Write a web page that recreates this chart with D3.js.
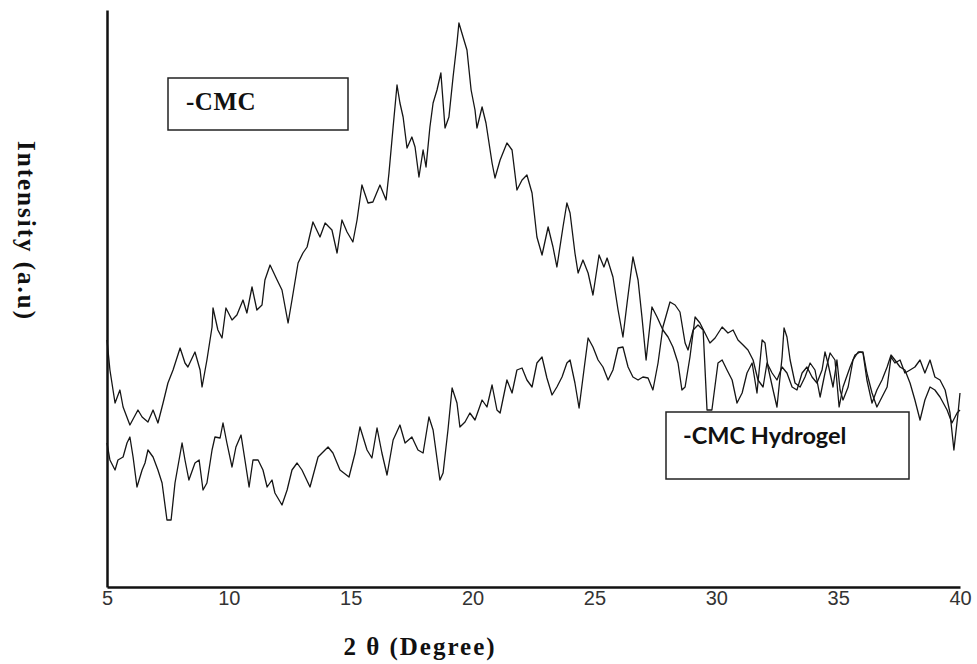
<!DOCTYPE html>
<html>
<head>
<meta charset="utf-8">
<script src="https://cdn.jsdelivr.net/npm/d3@7"></script>
<style>
  body { margin: 0; background: #fff; }
  svg { display: block; }
</style>
</head>
<body>
<div id="root"></div>
<script>
// CMC: 2θ (degree) and intensity (a.u.)
const cmcTheta = [5.00,5.12,5.33,5.53,5.66,5.94,6.27,6.44,6.68,6.89,7.09,7.30,7.50,7.71,8.00,8.20,8.32,8.61,8.82,8.90,
  9.10,9.31,9.35,9.55,9.72,9.88,10.13,10.33,10.58,10.74,10.95,11.15,11.36,11.48,11.69,11.98,12.18,12.43,12.59,12.84,
  13.04,13.21,13.45,13.74,13.95,14.23,14.44,14.64,14.85,15.09,15.26,15.46,15.71,15.91,16.20,16.45,16.57,16.74,16.90,17.02,
  17.15,17.31,17.51,17.64,17.80,17.97,18.09,18.25,18.38,18.54,18.70,18.87,19.03,19.20,19.36,19.44,19.61,19.77,19.94,20.10,
  20.18,20.39,20.55,20.80,20.92,21.13,21.41,21.62,21.82,22.03,22.23,22.44,22.64,22.85,23.10,23.30,23.46,23.71,23.87,24.00,
  24.20,24.33,24.53,24.74,24.94,25.19,25.39,25.52,25.76,25.97,26.17,26.34,26.58,26.79,26.95,27.12,27.36,27.57,27.81,28.02,
  28.22,28.43,28.59,28.72,28.92,29.13,29.33,29.74,29.95,30.24,30.48,30.69,30.89,31.10,31.30,31.51,31.71,31.92,32.08,32.29,
  32.49,32.70,32.90,33.11,33.31,33.52,33.72,33.93,34.13,34.34,34.46,34.58,34.79,34.95,35.08,35.20,35.41,35.61,35.82,36.02,
  36.18,36.39,36.59,36.80,37.01,37.17,37.33,37.54,37.74,37.95,38.15,38.36,38.56,38.77,38.97,39.18,39.39,39.59,39.75,39.92,40.00];
const cmcIntensity = [247,217,184,197,180,162,177,170,165,177,164,184,204,217,239,224,220,235,217,200,
  227,260,279,257,249,279,267,272,287,274,300,277,282,307,322,307,297,264,287,324,
  334,340,365,350,364,357,334,367,355,345,367,402,384,385,402,387,414,460,502,484,
  470,439,450,440,410,437,420,460,484,497,514,459,470,510,544,564,550,537,497,477,
  459,480,464,424,409,427,444,437,397,407,412,394,350,332,360,340,320,360,384,374,
  334,314,327,314,292,332,320,329,310,277,250,284,330,307,270,227,280,270,257,250,
  240,224,197,200,230,270,264,244,249,260,254,257,247,242,237,227,207,200,224,214,
  207,220,214,200,197,214,220,210,204,217,235,224,200,227,197,187,200,227,235,235,
  214,194,180,190,200,230,224,227,214,217,220,227,214,227,210,207,197,174,137,174,194];

// CMC Hydrogel
const gelTheta = [5.00,5.12,5.33,5.45,5.66,5.82,5.94,6.07,6.23,6.44,6.56,6.68,6.89,7.09,7.26,7.46,7.63,7.79,8.08,8.20,
  8.36,8.61,8.78,8.94,9.10,9.31,9.43,9.64,9.76,9.92,10.13,10.29,10.50,10.66,10.83,10.99,11.20,11.40,11.57,11.77,
  11.89,12.18,12.39,12.59,12.80,13.00,13.33,13.66,14.07,14.27,14.56,14.93,15.18,15.38,15.67,15.87,16.08,16.28,16.49,16.74,
  17.02,17.23,17.51,17.76,17.97,18.21,18.38,18.66,18.79,18.99,19.16,19.36,19.48,19.69,19.89,20.10,20.39,20.59,20.80,21.00,
  21.13,21.41,21.62,21.82,22.03,22.23,22.44,22.64,22.85,23.05,23.26,23.46,23.67,23.87,24.00,24.20,24.37,24.57,24.74,24.94,
  25.15,25.35,25.56,25.76,25.97,26.17,26.38,26.58,26.79,26.99,27.20,27.40,27.61,27.81,28.10,28.31,28.51,28.72,28.84,29.05,
  29.25,29.46,29.62,29.82,30.07,30.24,30.44,30.65,30.85,31.06,31.26,31.47,31.67,31.88,32.00,32.12,32.33,32.49,32.70,32.78,
  32.90,33.03,33.23,33.44,33.64,33.85,34.05,34.26,34.46,34.67,34.87,35.04,35.20,35.49,35.69,35.90,36.02,36.18,36.39,36.59,
  36.80,37.01,37.17,37.33,37.54,37.74,37.95,38.15,38.36,38.56,38.77,38.97,39.18,39.47,39.67,39.88,40.00];
const gelIntensity = [144,127,117,127,130,144,150,130,100,117,124,137,130,117,104,67,67,104,144,127,
  107,124,127,97,104,137,150,149,164,144,120,140,152,127,100,127,127,117,100,107,
  94,82,97,117,124,117,100,130,140,134,117,110,134,160,137,129,159,134,112,147,
  162,144,150,137,134,170,157,107,114,157,199,184,160,165,174,167,187,180,202,177,
  174,207,194,217,219,207,200,224,230,209,192,200,210,224,227,204,179,217,249,240,
  227,220,207,217,239,240,220,210,207,210,209,197,224,260,285,282,275,244,237,257,
  262,257,177,177,224,227,217,207,184,194,214,224,194,247,244,220,197,180,230,259,
  250,227,204,200,210,224,217,190,214,234,227,180,200,220,232,235,234,207,184,197,
  207,220,232,227,220,217,204,187,167,187,200,197,190,177,164,174,177];

const xTicks = [5, 10, 15, 20, 25, 30, 35, 40];

const width = 977;
const height = 664;
const plot = { left: 107, right: 960, top: 10, bottom: 587 };

const svg = d3.select("#root")
  .append("svg")
    .attr("width", width)
    .attr("height", height);

const xScale = d3.scaleLinear()
  .domain([5, 40])
  .range([plot.left, plot.right]);

const yScale = d3.scaleLinear()
  .domain([0, 577])
  .range([plot.bottom, plot.top]);

const lineCreator = d3.line()
  .x(d => xScale(d[0]))
  .y(d => yScale(d[1]));

const series = [
  { id: "cmc", points: d3.zip(cmcTheta, cmcIntensity) },
  { id: "gel", points: d3.zip(gelTheta, gelIntensity) }
];

svg.selectAll("path.trace")
  .data(series, d => d.id)
  .enter()
  .append("path")
    .attr("class", "trace")
    .attr("d", d => lineCreator(d.points))
    .attr("fill", "none")
    .attr("stroke", "#151515")
    .attr("stroke-width", 1.3)
    .attr("stroke-linejoin", "round");

// ejes
const xAxis = svg.append("g")
  .attr("transform", `translate(0, ${plot.bottom})`)
  .call(d3.axisBottom(xScale).tickValues(xTicks).tickSize(0).tickPadding(4));
xAxis.select(".domain").attr("stroke", "#111").attr("stroke-width", 2.5);
xAxis.selectAll("text")
  .attr("font-family", "'Liberation Sans', Arial, sans-serif")
  .attr("font-size", 20)
  .attr("fill", "#333");

const yAxis = svg.append("g")
  .attr("transform", `translate(${plot.left}, 0)`)
  .call(d3.axisLeft(yScale).tickValues([]).tickSize(0));
yAxis.select(".domain").attr("stroke", "#111").attr("stroke-width", 2.5);

// titulos
svg.append("text")
  .text("2 θ (Degree)")
  .attr("x", 420)
  .attr("y", 655)
  .attr("text-anchor", "middle")
  .attr("font-family", "'Liberation Serif', 'Times New Roman', serif")
  .attr("font-weight", "bold")
  .attr("font-size", 25)
  .attr("letter-spacing", 2)
  .attr("fill", "#111");

svg.append("text")
  .text("Intensity (a.u)")
  .attr("transform", "translate(18, 231) rotate(90)")
  .attr("text-anchor", "middle")
  .attr("font-family", "'Liberation Serif', 'Times New Roman', serif")
  .attr("font-weight", "bold")
  .attr("font-size", 25)
  .attr("letter-spacing", 2)
  .attr("fill", "#111");

// leyendas
svg.append("rect")
  .attr("x", 168).attr("y", 78)
  .attr("width", 180).attr("height", 52)
  .attr("fill", "#fff")
  .attr("stroke", "#222")
  .attr("stroke-width", 1.5);
svg.append("text")
  .text("-CMC")
  .attr("x", 186).attr("y", 110)
  .attr("font-family", "'Liberation Serif', 'Times New Roman', serif")
  .attr("font-weight", "bold")
  .attr("font-size", 25)
  .attr("letter-spacing", 0.5)
  .attr("fill", "#111");

svg.append("rect")
  .attr("x", 666).attr("y", 412)
  .attr("width", 243).attr("height", 67)
  .attr("fill", "#fff")
  .attr("stroke", "#222")
  .attr("stroke-width", 1.5);
svg.append("text")
  .text("-CMC Hydrogel")
  .attr("x", 683).attr("y", 444)
  .attr("font-family", "Lato, 'Open Sans', sans-serif")
  .attr("font-weight", "bold")
  .attr("font-size", 23.5)
  .attr("fill", "#111");
</script>
</body>
</html>
